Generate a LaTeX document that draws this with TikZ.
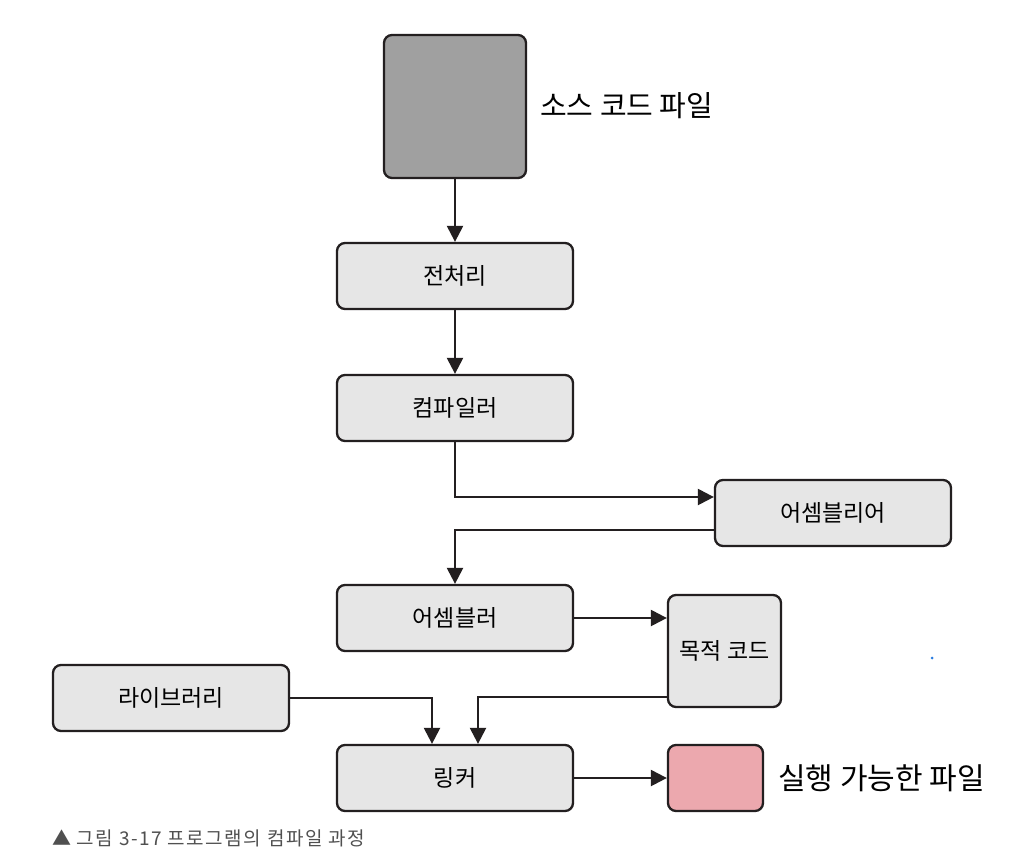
\documentclass[tikz,border=0pt]{standalone}
\usepackage{fontspec}
\newfontfamily\kr{Noto Sans CJK KR}
\newfontfamily\krcap[LetterSpace=8]{Noto Sans CJK KR}
\usetikzlibrary{arrows.meta}
\definecolor{boxgray}{HTML}{E6E6E6}
\definecolor{srcgray}{HTML}{A0A0A0}
\definecolor{exepink}{HTML}{ECA8AE}
\definecolor{edge}{HTML}{231F20}
\definecolor{capgray}{HTML}{505050}
\definecolor{dotblue}{HTML}{2A7DE1}
\begin{document}
\begin{tikzpicture}[x=1pt,y=-1pt,
  box/.style={draw=edge, line width=2.3pt, rounded corners=8pt, fill=boxgray, inner sep=0pt,
              minimum width=236pt, minimum height=66pt, font=\kr\fontsize{23}{23}\selectfont},
  lbl/.style={anchor=west, inner sep=0pt, font=\kr\fontsize{29}{29}\selectfont},
  conn/.style={line width=2.3pt, draw=edge},
  arr/.style={conn, -{Triangle[length=16pt,width=16pt]}}]
\useasboundingbox (0,0) rectangle (1024,862);
\fill[white] (0,0) rectangle (1024,862);

\node[box, fill=srcgray, minimum width=142pt, minimum height=143pt] (src) at (455,106.5) {};
\node[lbl] (srclbl) at (540,106) {소스 코드 파일};
\node[box] (pre) at (455,276) {전처리};
\node[box] (comp) at (455,408) {컴파일러};
\node[box] (asmlang) at (833,513) {어셈블리어};
\node[box] (asm) at (455,618) {어셈블러};
\node[box, minimum width=113pt, minimum height=112pt] (obj) at (724.5,651) {목적 코드};
\node[box] (lib) at (171,698) {라이브러리};
\node[box] (linker) at (455,778) {링커};
\node[box, fill=exepink, minimum width=95pt, minimum height=66pt] (exe) at (715.5,778) {};
\node[lbl, font=\kr\fontsize{30}{30}\selectfont] (exelbl) at (778,778) {실행 가능한 파일};

\draw[arr] (src) -- (pre);
\draw[arr] (pre) -- (comp);
\draw[arr] (comp.south) |- ([yshift=16pt]asmlang.west);
\draw[arr] ([yshift=-17pt]asmlang.west) -| (asm.north);
\draw[arr] (asm.east) -- (obj.west |- asm.east);
\draw[arr] (lib.east) -| ([xshift=-23pt]linker.north);
\draw[arr] ([yshift=-46pt]obj.west) -| ([xshift=23pt]linker.north);
\draw[arr] (linker) -- (exe);

\node[anchor=west, inner sep=0pt, text=capgray, font=\krcap\fontsize{19}{19}\selectfont] (cap) at (52,838) {▲ 그림 3-17 프로그램의 컴파일 과정};
\node[circle, fill=dotblue, inner sep=0pt, minimum size=3pt] (dot) at (932,658) {};
\end{tikzpicture}
\end{document}
